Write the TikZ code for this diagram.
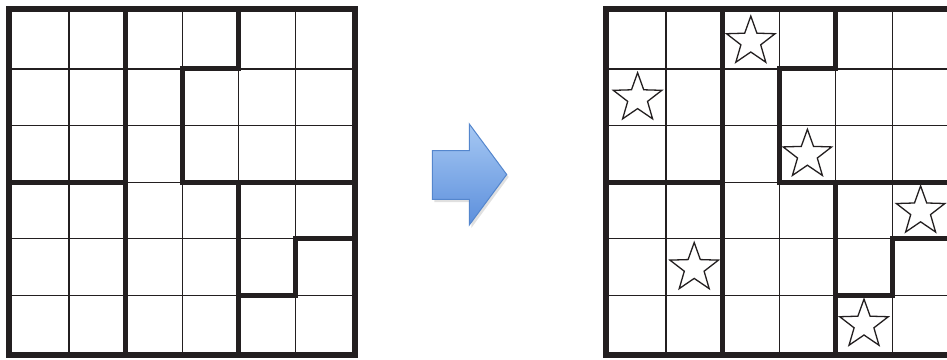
\documentclass[tikz,border=0pt]{standalone}
\usetikzlibrary{shapes.geometric}
\definecolor{ink}{RGB}{35,31,32}
\definecolor{arrowtop}{RGB}{166,200,243}
\definecolor{arrowbot}{RGB}{92,143,220}
\definecolor{arrowline}{RGB}{84,134,205}
\begin{document}
\begin{tikzpicture}[x=1pt,y=-1pt,
  thin/.style={draw=ink,line width=1.2pt},
  thick/.style={draw=ink,line width=5pt,line cap=rect},
  border/.style={draw=ink,line width=6.4pt},
  staricon/.style={star,star points=5,star point ratio=2.45,minimum size=51pt,inner sep=0pt,draw=ink,line width=1.3pt,fill=white}]
\useasboundingbox (0,0) rectangle (947,359);
\clip (0,0) rectangle (947,359);
\fill[white] (0,0) rectangle (947,359);
\def\s{56.6}
% ---------- one grid as a macro ----------
\newcommand{\sudokugrid}[2]{%
  \begin{scope}[shift={(#1,#2)}]
    \foreach \i in {1,...,5} {
      \draw[thin] (\i*\s,0) -- (\i*\s,6*\s);
      \draw[thin] (0,\i*\s) -- (6*\s,\i*\s);
    }
    % region boundaries
    \draw[thick] (2*\s,0) -- (2*\s,6*\s);
    \draw[thick] (0,3*\s) -- (2*\s,3*\s);
    \draw[thick] (4*\s,0) -- (4*\s,1*\s) -- (3*\s,1*\s) -- (3*\s,3*\s) -- (6*\s,3*\s);
    \draw[thick] (4*\s,3*\s) -- (4*\s,6*\s);
    \draw[thick] (4*\s,5*\s) -- (5*\s,5*\s) -- (5*\s,4*\s) -- (6*\s,4*\s);
    % outer border
    \draw[border] (-3.1,-3.1) rectangle (6*\s+3.1,6*\s+3.1);
  \end{scope}}
\sudokugrid{12.3}{12.3}
\sudokugrid{609.3}{12.3}
% ---------- stars ----------
\begin{scope}[shift={(609.3,12.3)}]
  \node[staricon] (s1) at (2.5*\s,0.5*\s+1) {};
  \node[staricon] (s2) at (0.5*\s,1.5*\s+1) {};
  \node[staricon] (s3) at (3.5*\s,2.5*\s+1) {};
  \node[staricon] (s4) at (5.5*\s,3.5*\s+1) {};
  \node[staricon] (s5) at (1.5*\s,4.5*\s+1) {};
  \node[staricon] (s6) at (4.5*\s,5.5*\s+1) {};
\end{scope}
% ---------- arrow ----------
\fill[black,opacity=0.12] (434.3,153) -- (471.3,153) -- (471.3,127) -- (508.7,177) -- (471.3,228) -- (471.3,202) -- (434.3,202) -- cycle;
\shade[top color=arrowtop,bottom color=arrowbot,draw=arrowline,line width=1pt,line join=miter]
  (432.3,150.7) -- (469.3,150.7) -- (469.3,124) -- (506.7,174.5) -- (469.3,225) -- (469.3,199.3) -- (432.3,199.3) -- cycle;
\end{tikzpicture}
\end{document}
